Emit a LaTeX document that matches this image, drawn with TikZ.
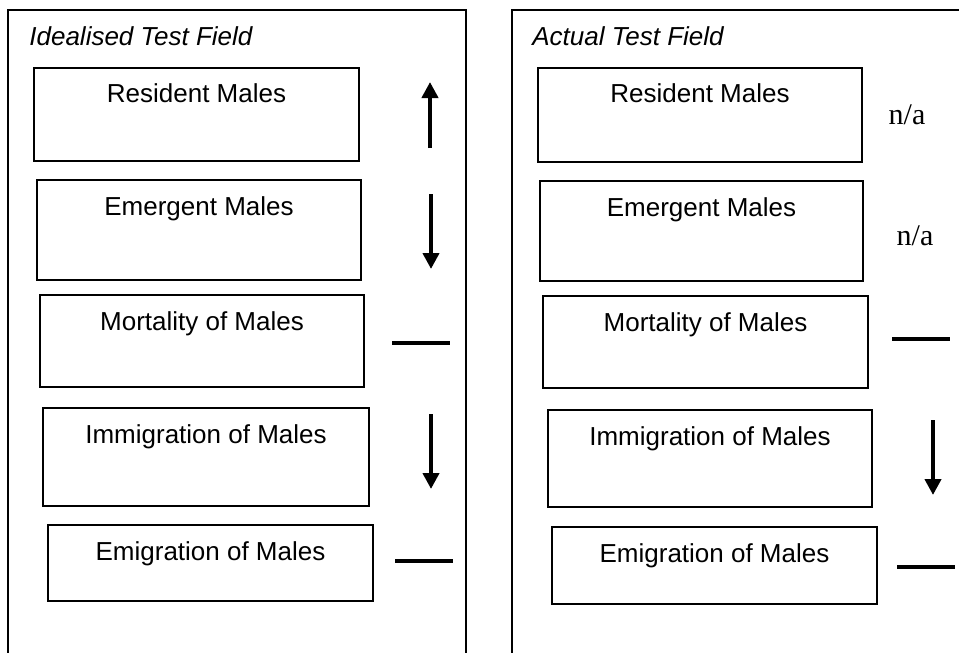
\documentclass[tikz,border=0pt]{standalone}
\usepackage{fontspec}
\setmainfont{Liberation Sans}
\newfontfamily\serifnote{Liberation Serif}
\usetikzlibrary{fit,calc,arrows.meta}

\tikzset{
  frame/.style={line width=0.8pt},
  box/.style={draw, line width=1pt, inner sep=0pt},
  lbl/.style={anchor=base, inner sep=0pt, font=\fontsize{13}{15}\selectfont},
  ttl/.style={anchor=base west, inner sep=0pt, font=\fontsize{13}{15}\selectfont\itshape},
  na/.style={anchor=base, inner sep=0pt, font=\serifnote\fontsize{15}{17}\selectfont},
  trend/.style={line width=2pt, -{Triangle[length=8pt,width=8pt]}},
  level/.style={line width=2.3pt}
}

\begin{document}
\begin{tikzpicture}[x=0.5pt,y=-0.5pt]
\useasboundingbox (0,0) rectangle (959,653);

% outer panels (open at the bottom, right panel runs off the page)
\draw[frame] (8,653) -- (8,10) -- (466,10) -- (466,653);
\draw[frame] (512,653) -- (512,10) -- (959,10);

\node[ttl] (ttlI) at (29,46) {Idealised Test Field};
\node[ttl] (ttlA) at (532,46) {Actual Test Field};

% ---------- idealised field ----------
\node[box, fit={(34,68) (359,161)}] (iRes) {};
\node[box, fit={(37,180) (361,280)}] (iEme) {};
\node[box, fit={(40,295) (364,387)}] (iMor) {};
\node[box, fit={(43,408) (369,506)}] (iImm) {};
\node[box, fit={(48,525) (373,601)}] (iEmi) {};

\node[lbl] (iResT) at ($(iRes.north)+(0,35)$) {Resident Males};
\node[lbl] (iEmeT) at ($(iEme.north)+(0,36)$) {Emergent Males};
\node[lbl] (iMorT) at ($(iMor.north)+(0,36)$) {Mortality of Males};
\node[lbl] (iImmT) at ($(iImm.north)+(0,36)$) {Immigration of Males};
\node[lbl] (iEmiT) at ($(iEmi.north)+(0,36)$) {Emigration of Males};

\coordinate (iRes1) at (430,148); \coordinate (iRes2) at (430,82);
\coordinate (iEme1) at (431,194); \coordinate (iEme2) at (431,269);
\coordinate (iMor1) at (392,343); \coordinate (iMor2) at (450,343);
\coordinate (iImm1) at (431,414); \coordinate (iImm2) at (431,489);
\coordinate (iEmi1) at (395,561); \coordinate (iEmi2) at (453,561);

\draw[trend] (iRes1) -- (iRes2);
\draw[trend] (iEme1) -- (iEme2);
\draw[level] (iMor1) -- (iMor2);
\draw[trend] (iImm1) -- (iImm2);
\draw[level] (iEmi1) -- (iEmi2);

% ---------- actual field ----------
\node[box, fit={(538,68) (862,162)}] (aRes) {};
\node[box, fit={(540,181) (863,281)}] (aEme) {};
\node[box, fit={(543,296) (868,388)}] (aMor) {};
\node[box, fit={(548,410) (872,507)}] (aImm) {};
\node[box, fit={(552,527) (877,604)}] (aEmi) {};

\node[lbl] (aResT) at ($(aRes.north)+(0,35)$) {Resident Males};
\node[lbl] (aEmeT) at ($(aEme.north)+(0,36)$) {Emergent Males};
\node[lbl] (aMorT) at ($(aMor.north)+(0,36)$) {Mortality of Males};
\node[lbl] (aImmT) at ($(aImm.north)+(0,36)$) {Immigration of Males};
\node[lbl] (aEmiT) at ($(aEmi.north)+(0,36)$) {Emigration of Males};

\node[na] (aResN) at (907,124) {n/a};
\node[na] (aEmeN) at (915,245) {n/a};

\coordinate (aMor1) at (892,339); \coordinate (aMor2) at (950,339);
\coordinate (aImm1) at (933,420); \coordinate (aImm2) at (933,495);
\coordinate (aEmi1) at (897,567); \coordinate (aEmi2) at (955,567);

\draw[level] (aMor1) -- (aMor2);
\draw[trend] (aImm1) -- (aImm2);
\draw[level] (aEmi1) -- (aEmi2);
\end{tikzpicture}
\end{document}
